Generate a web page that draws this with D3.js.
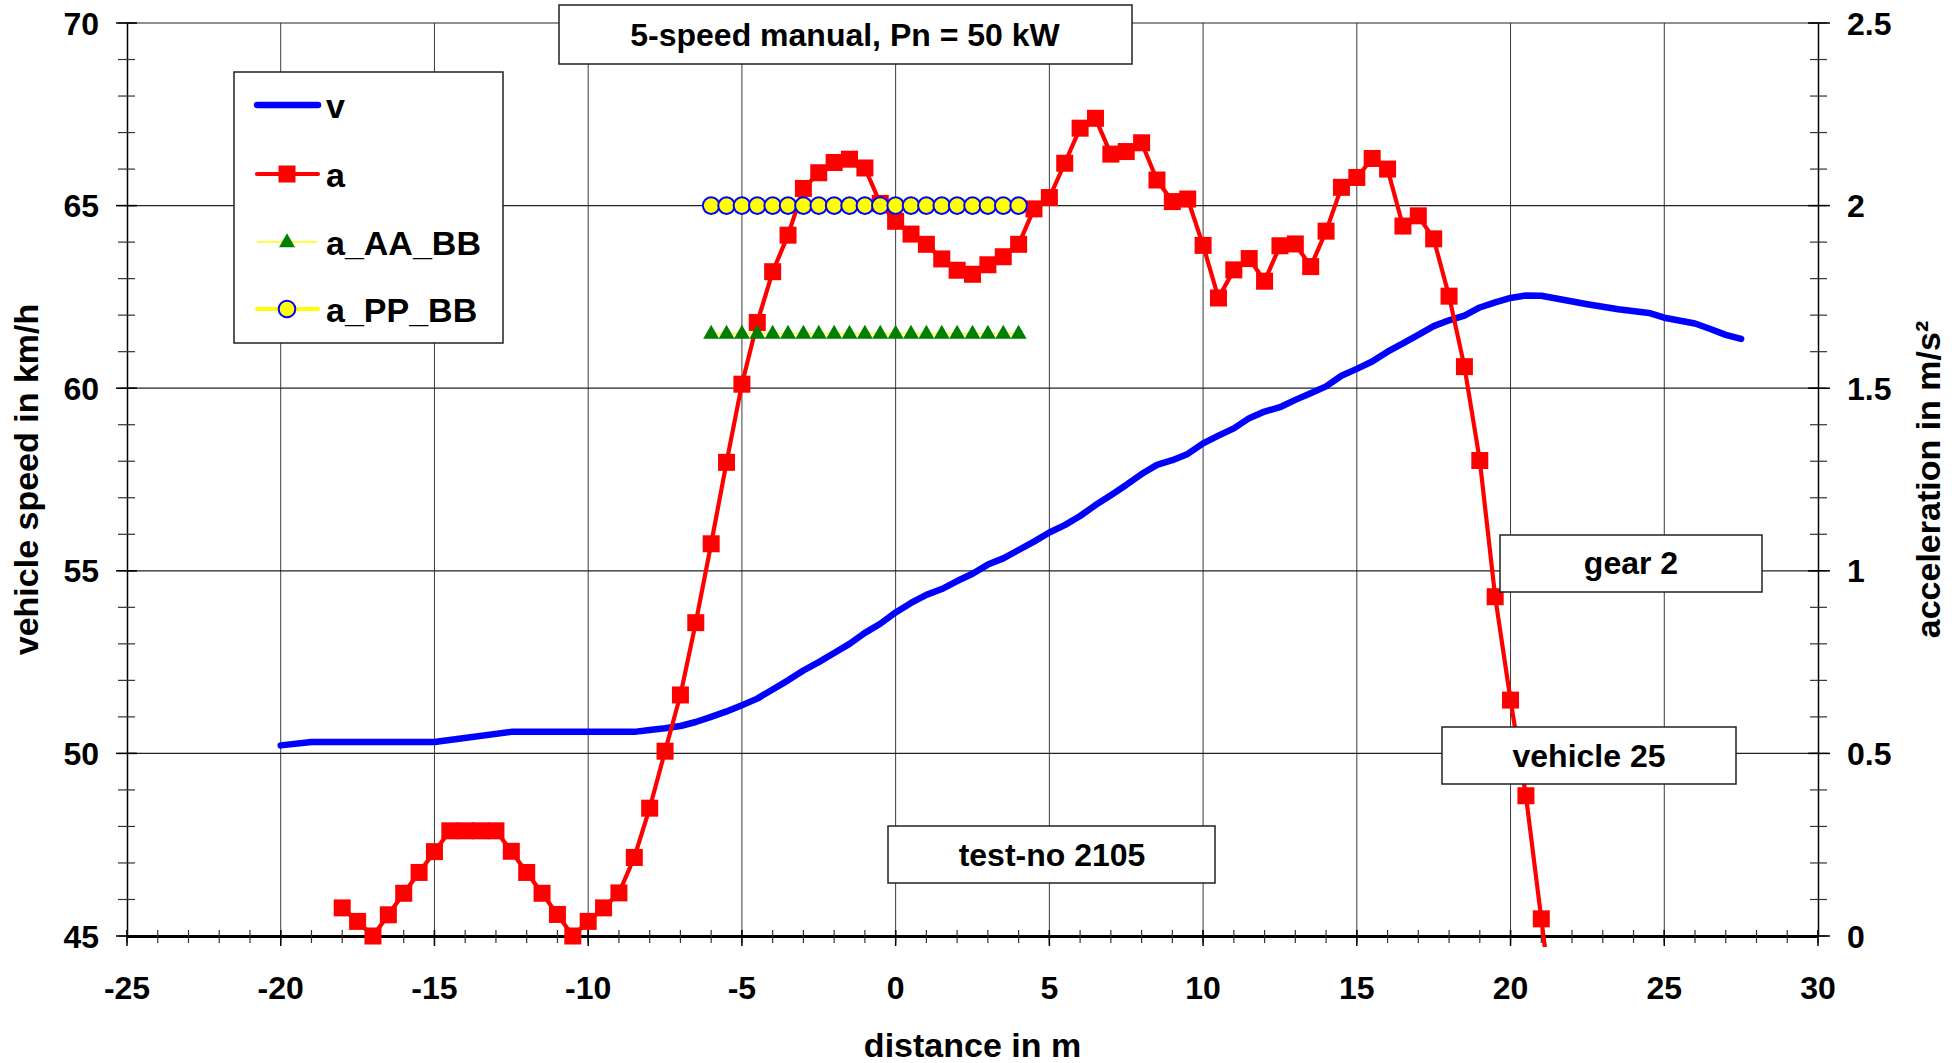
<!DOCTYPE html>
<html>
<head>
<meta charset="utf-8">
<script src="https://cdn.jsdelivr.net/npm/d3@7/dist/d3.min.js"></script>
<style>
  html, body { margin: 0; padding: 0; background: #fff; }
  svg { display: block; }
  text { font-family: "Liberation Sans", Arial, sans-serif; font-weight: bold; fill: #000; }
</style>
</head>
<body>
<svg id="chart" width="1957" height="1063"></svg>
<script>
// ---------- data ----------
const distV = [-20, -19, -15, -12.5, -8.5, -8, -7.5, -7, -6.5, -6, -5.5, -5, -4.5, -4, -3.5, -3, -2.5, -2, -1.5, -1, -0.5, 0, 0.5, 1, 1.5, 2, 2.5, 3, 3.5, 4, 4.5, 5, 5.5, 6, 6.5, 7, 7.5, 8, 8.5, 9, 9.5, 10, 10.5, 11, 11.5, 12, 12.5, 13, 13.5, 14, 14.5, 15, 15.5, 16, 16.5, 17, 17.5, 18, 18.5, 19, 19.5, 20, 20.5, 21, 22.5, 23.5, 24.5, 25, 26, 26.5, 27, 27.5];
const speedV = [50.22, 50.31, 50.31, 50.59, 50.59, 50.64, 50.69, 50.75, 50.86, 51.0, 51.15, 51.32, 51.5, 51.75, 52.0, 52.27, 52.5, 52.75, 53.0, 53.3, 53.55, 53.86, 54.12, 54.34, 54.5, 54.72, 54.92, 55.17, 55.34, 55.57, 55.8, 56.05, 56.25, 56.5, 56.8, 57.07, 57.35, 57.65, 57.9, 58.03, 58.2, 58.49, 58.7, 58.9, 59.18, 59.36, 59.48, 59.68, 59.86, 60.05, 60.34, 60.53, 60.73, 61.0, 61.23, 61.46, 61.7, 61.86, 61.99, 62.21, 62.35, 62.47, 62.54, 62.53, 62.3, 62.16, 62.06, 61.93, 61.77, 61.62, 61.46, 61.35];

const distA = [-18, -17.5, -17, -16.5, -16, -15.5, -15, -14.5, -14, -13.5, -13, -12.5, -12, -11.5, -11, -10.5, -10, -9.5, -9, -8.5, -8, -7.5, -7, -6.5, -6, -5.5, -5, -4.5, -4, -3.5, -3, -2.5, -2, -1.5, -1, -0.5, 0, 0.5, 1, 1.5, 2, 2.5, 3, 3.5, 4, 4.5, 5, 5.5, 6, 6.5, 7, 7.5, 8, 8.5, 9, 9.5, 10, 10.5, 11, 11.5, 12, 12.5, 13, 13.5, 14, 14.5, 15, 15.5, 16, 16.5, 17, 17.5, 18, 18.5, 19, 19.5, 20, 20.5, 21];
const accelA = [0.077, 0.04, 0.0, 0.058, 0.117, 0.174, 0.231, 0.288, 0.288, 0.288, 0.288, 0.232, 0.174, 0.117, 0.059, 0.0, 0.04, 0.077, 0.118, 0.215, 0.35, 0.506, 0.66, 0.858, 1.074, 1.297, 1.511, 1.68, 1.819, 1.919, 2.047, 2.09, 2.118, 2.127, 2.103, 2.006, 1.957, 1.922, 1.894, 1.854, 1.823, 1.812, 1.838, 1.86, 1.894, 1.991, 2.022, 2.116, 2.212, 2.239, 2.141, 2.148, 2.172, 2.07, 2.011, 2.018, 1.891, 1.747, 1.824, 1.855, 1.793, 1.89, 1.895, 1.833, 1.93, 2.05, 2.077, 2.129, 2.1, 1.944, 1.972, 1.909, 1.752, 1.559, 1.302, 0.929, 0.646, 0.384, 0.047];
// line continues below the axis after the last visible point
const distTail = [21, 21.5];
const accelTail = [0.047, -0.29];

const distRef = [-6, -5.5, -5, -4.5, -4, -3.5, -3, -2.5, -2, -1.5, -1, -0.5, 0, 0.5, 1, 1.5, 2, 2.5, 3, 3.5, 4];
const accelAA = [1.65, 1.65, 1.65, 1.65, 1.65, 1.65, 1.65, 1.65, 1.65, 1.65, 1.65, 1.65, 1.65, 1.65, 1.65, 1.65, 1.65, 1.65, 1.65, 1.65, 1.65];
const accelPP = [2.0, 2.0, 2.0, 2.0, 2.0, 2.0, 2.0, 2.0, 2.0, 2.0, 2.0, 2.0, 2.0, 2.0, 2.0, 2.0, 2.0, 2.0, 2.0, 2.0, 2.0];

const xTicks = [-25, -20, -15, -10, -5, 0, 5, 10, 15, 20, 25, 30];
const yLeftTicks = [45, 50, 55, 60, 65, 70];
const yRightTicks = [0, 0.5, 1, 1.5, 2, 2.5];
const yRightLabels = ["0", "0.5", "1", "1.5", "2", "2.5"];

const legendNames = ["v", "a", "a_AA_BB", "a_PP_BB"];
const titleText = "5-speed manual, Pn = 50 kW";
const xTitle = "distance in m";
const yLeftTitle = "vehicle speed in km/h";
const yRightTitle = "acceleration in m/s\u00B2";
const notes = ["gear 2", "vehicle 25", "test-no 2105"];

// ---------- layout ----------
const L = 127, R = 1818, T = 23, B = 936;
const svg = d3.select("#chart");

const x = d3.scaleLinear().domain([-25, 30]).range([L, R]);
const yL = d3.scaleLinear().domain([45, 70]).range([B, T]);
const yR = d3.scaleLinear().domain([0, 2.5]).range([B, T]);

const FS = 32;

// gridlines
const grid = svg.append("g");
grid.selectAll("line.v").data(xTicks.filter(d => d > -25 && d < 30)).join("line")
  .attr("x1", d => x(d)).attr("x2", d => x(d)).attr("y1", T).attr("y2", B)
  .attr("stroke", "#3a3a3a").attr("stroke-width", 1);
grid.selectAll("line.h").data(yLeftTicks.filter(d => d > 45)).join("line")
  .attr("x1", L).attr("x2", R).attr("y1", d => yL(d)).attr("y2", d => yL(d))
  .attr("stroke", "#222").attr("stroke-width", 1.2);

// axes
const axG = svg.append("g");
// left axis
const leftAxis = d3.axisLeft(yL).tickValues(yLeftTicks).tickSize(0).tickFormat("");
axG.append("g").attr("transform", `translate(${L},0)`).call(leftAxis)
  .call(g => g.select(".domain").attr("stroke", "#000").attr("stroke-width", 1.5));
const minorL = d3.range(45, 70.01, 1);
axG.selectAll("line.ml").data(minorL).join("line")
  .attr("x1", L - 9).attr("x2", L + 8).attr("y1", d => yL(d)).attr("y2", d => yL(d))
  .attr("stroke", "#333").attr("stroke-width", 1.2);
axG.selectAll("line.Ml").data(yLeftTicks).join("line")
  .attr("x1", L - 11).attr("x2", L + 10).attr("y1", d => yL(d)).attr("y2", d => yL(d))
  .attr("stroke", "#000").attr("stroke-width", 1.5);
axG.selectAll("text.tl").data(yLeftTicks).join("text")
  .attr("x", 99).attr("y", d => yL(d) + 11.5).attr("text-anchor", "end")
  .attr("font-size", FS).text(d => d);

// right axis
const rightAxis = d3.axisRight(yR).tickValues(yRightTicks).tickSize(0).tickFormat("");
axG.append("g").attr("transform", `translate(${R},0)`).call(rightAxis)
  .call(g => g.select(".domain").attr("stroke", "#000").attr("stroke-width", 1.5));
const minorR = d3.range(0, 2.501, 0.1);
axG.selectAll("line.mr").data(minorR).join("line")
  .attr("x1", R - 8).attr("x2", R + 9).attr("y1", d => yR(d)).attr("y2", d => yR(d))
  .attr("stroke", "#333").attr("stroke-width", 1.2);
axG.selectAll("line.Mr").data(yRightTicks).join("line")
  .attr("x1", R - 10).attr("x2", R + 12).attr("y1", d => yR(d)).attr("y2", d => yR(d))
  .attr("stroke", "#000").attr("stroke-width", 1.5);
axG.selectAll("text.tr").data(yRightTicks).join("text")
  .attr("x", 1847).attr("y", d => yR(d) + 11.5).attr("text-anchor", "start")
  .attr("font-size", FS).text((d, i) => yRightLabels[i]);

// bottom axis
const bottomAxis = d3.axisBottom(x).tickValues(xTicks).tickSize(0).tickFormat("");
axG.append("g").attr("transform", `translate(0,${B})`).call(bottomAxis)
  .call(g => g.select(".domain").attr("stroke", "#000").attr("stroke-width", 3));
const minorX = d3.range(-25, 30.01, 1);
axG.selectAll("line.mx").data(minorX).join("line")
  .attr("x1", d => x(d)).attr("x2", d => x(d)).attr("y1", B - 6).attr("y2", B + 7)
  .attr("stroke", "#333").attr("stroke-width", 1.2);
axG.selectAll("line.Mx").data(xTicks).join("line")
  .attr("x1", d => x(d)).attr("x2", d => x(d)).attr("y1", B - 6).attr("y2", B + 10)
  .attr("stroke", "#000").attr("stroke-width", 1.5);
axG.selectAll("text.tx").data(xTicks).join("text")
  .attr("x", d => x(d)).attr("y", 999).attr("text-anchor", "middle")
  .attr("font-size", FS).text(d => d);

// axis titles
svg.append("text").attr("x", (L + R) / 2).attr("y", 1057).attr("text-anchor", "middle")
  .attr("font-size", 34).text(xTitle);
svg.append("text").attr("transform", `translate(38,${(T + B) / 2}) rotate(-90)`)
  .attr("text-anchor", "middle").attr("font-size", 34).text(yLeftTitle);
svg.append("text").attr("transform", `translate(1940,${(T + B) / 2}) rotate(-90)`)
  .attr("text-anchor", "middle").attr("font-size", 34).text(yRightTitle);

// ---------- series ----------
svg.append("defs").append("clipPath").attr("id", "clipA")
  .append("rect").attr("x", L).attr("y", 0).attr("width", R - L).attr("height", B + 11);

const dataV = distV.map((d, i) => [d, speedV[i]]);
const dataA = distA.map((d, i) => [d, accelA[i]]);
const dataTail = distTail.map((d, i) => [d, accelTail[i]]);
const dataAA = distRef.map((d, i) => [d, accelAA[i]]);
const dataPP = distRef.map((d, i) => [d, accelPP[i]]);

const lineL = d3.line().x(d => x(d[0])).y(d => yL(d[1]));
const lineR = d3.line().x(d => x(d[0])).y(d => yR(d[1]));

// v
svg.append("path").datum(dataV).attr("d", lineL)
  .attr("fill", "none").attr("stroke", "#0000ff").attr("stroke-width", 6.5)
  .attr("stroke-linejoin", "round").attr("stroke-linecap", "round");

// a
const gA = svg.append("g");
gA.append("path").datum(dataA).attr("d", lineR)
  .attr("fill", "none").attr("stroke", "#ff0000").attr("stroke-width", 4.2)
  .attr("stroke-linejoin", "round");
gA.append("path").datum(dataTail).attr("d", lineR).attr("clip-path", "url(#clipA)")
  .attr("fill", "none").attr("stroke", "#ff0000").attr("stroke-width", 4.2);
const SQ = 17;
gA.selectAll("rect").data(dataA).join("rect")
  .attr("x", d => x(d[0]) - SQ / 2).attr("y", d => yR(d[1]) - SQ / 2)
  .attr("width", SQ).attr("height", SQ).attr("fill", "#ff0000");

// a_AA_BB
const triPath = (s) => { const h = s * 0.87; return `M0,${-h * 0.62}L${s / 2},${h * 0.38}L${-s / 2},${h * 0.38}Z`; };
const gAA = svg.append("g");
gAA.append("path").datum(dataAA).attr("d", lineR)
  .attr("fill", "none").attr("stroke", "#ffff00").attr("stroke-width", 1.5);
gAA.selectAll("path.t").data(dataAA).join("path").attr("class", "t")
  .attr("transform", d => `translate(${x(d[0])},${yR(d[1])})`)
  .attr("d", triPath(16)).attr("fill", "#008000");

// a_PP_BB
const gPP = svg.append("g");
gPP.append("path").datum(dataPP).attr("d", lineR)
  .attr("fill", "none").attr("stroke", "#ffff00").attr("stroke-width", 3);
gPP.selectAll("circle").data(dataPP).join("circle")
  .attr("cx", d => x(d[0])).attr("cy", d => yR(d[1])).attr("r", 8.3)
  .attr("fill", "#ffff00").attr("stroke", "#0000ff").attr("stroke-width", 2);

// ---------- boxes ----------
function box(x0, y0, w, h, label, cx, baseY) {
  svg.append("rect").attr("x", x0).attr("y", y0).attr("width", w).attr("height", h)
    .attr("fill", "#fff").attr("stroke", "#222").attr("stroke-width", 1.5);
  svg.append("text").attr("x", cx).attr("y", baseY).attr("text-anchor", "middle")
    .attr("font-size", FS).text(label);
}
box(559, 5, 573, 59, titleText, 845, 46);
box(1500, 535, 262, 57, notes[0], 1631, 574);
box(1442, 727, 294, 57, notes[1], 1589, 767);
box(888, 826, 327, 57, notes[2], 1052, 866);

// ---------- legend ----------
const lg = svg.append("g");
lg.append("rect").attr("x", 234).attr("y", 72).attr("width", 269).attr("height", 271)
  .attr("fill", "#fff").attr("stroke", "#222").attr("stroke-width", 1.5);
const legY = [105, 174, 242, 309];
// v
lg.append("line").attr("x1", 257).attr("x2", 318).attr("y1", legY[0]).attr("y2", legY[0])
  .attr("stroke", "#0000ff").attr("stroke-width", 6.5).attr("stroke-linecap", "round");
// a
lg.append("line").attr("x1", 257).attr("x2", 318).attr("y1", legY[1]).attr("y2", legY[1])
  .attr("stroke", "#ff0000").attr("stroke-width", 4.2).attr("stroke-linecap", "round");
lg.append("rect").attr("x", 287 - SQ / 2).attr("y", legY[1] - SQ / 2).attr("width", SQ).attr("height", SQ)
  .attr("fill", "#ff0000");
// a_AA_BB
lg.append("line").attr("x1", 257).attr("x2", 317).attr("y1", legY[2]).attr("y2", legY[2])
  .attr("stroke", "#ffff00").attr("stroke-width", 1.5);
lg.append("path").attr("transform", `translate(287,${legY[2]})`).attr("d", triPath(16)).attr("fill", "#008000");
// a_PP_BB
lg.append("line").attr("x1", 257).attr("x2", 318).attr("y1", legY[3]).attr("y2", legY[3])
  .attr("stroke", "#ffff00").attr("stroke-width", 4).attr("stroke-linecap", "round");
lg.append("circle").attr("cx", 287).attr("cy", legY[3]).attr("r", 8.3)
  .attr("fill", "#ffff00").attr("stroke", "#0000ff").attr("stroke-width", 2);
lg.selectAll("text").data(legendNames).join("text")
  .attr("x", 326).attr("y", (d, i) => legY[i] + 13).attr("font-size", 34).text(d => d);
</script>
</body>
</html>
